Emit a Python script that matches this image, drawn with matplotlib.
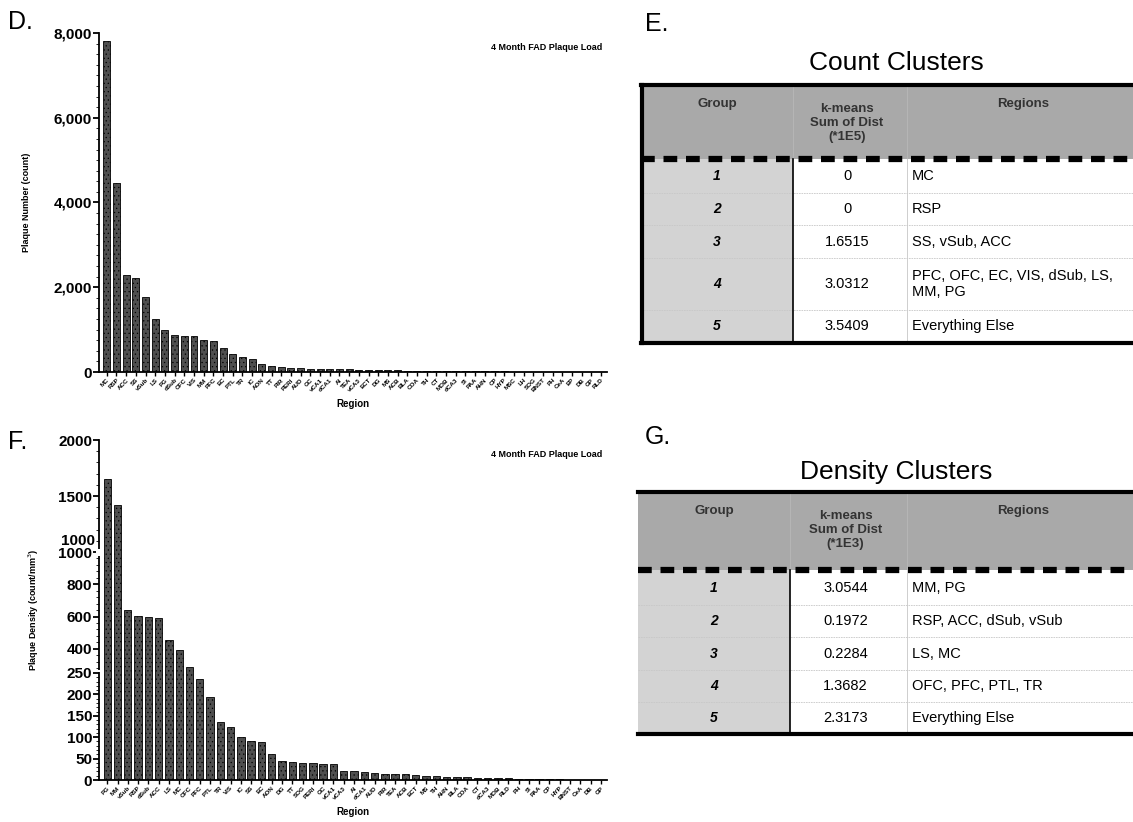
import numpy as np
import matplotlib
matplotlib.use("Agg")
import matplotlib.pyplot as plt
from matplotlib.ticker import FuncFormatter, MultipleLocator, FixedLocator
from matplotlib.patches import Rectangle

plt.rcParams['font.family'] = ['Liberation Sans', 'DejaVu Sans']

# ---- panel D: plaque count per region ----
count_regions = ['MC', 'RSP', 'ACC', 'SS', 'vSub', 'LS', 'PG', 'dSub', 'OFC', 'VIS',
                 'MM', 'PFC', 'EC', 'PTL', 'TR', 'IC', 'AON', 'TT', 'PIR', 'PERI',
                 'AUD', 'GC', 'vCA1', 'dCA1', 'AI', 'TEA', 'vCA3', 'ECT', 'DG', 'MS',
                 'ACB', 'BLA', 'COA', 'TH', 'CT', 'MOB', 'dCA3', 'SI', 'PAA', 'AHN',
                 'CP', 'HYP', 'MSC', 'LH', 'SOG', 'BNST', 'PH', 'CeA', 'EP', 'DB',
                 'GP', 'RLD']
count_values = [7800, 4450, 2280, 2230, 1780, 1250, 1000, 880, 860, 860,
                760, 720, 560, 420, 350, 310, 190, 150, 120, 100,
                90, 80, 75, 70, 65, 60, 55, 50, 45, 40,
                38, 35, 32, 30, 28, 25, 22, 20, 18, 16,
                14, 12, 11, 10, 9, 8, 7, 6, 5, 4,
                3, 2]

# ---- panel F: plaque density per region ----
dens_regions = ['PG', 'MM', 'vSub', 'RSP', 'dSub', 'ACC', 'LS', 'MC', 'OFC', 'PFC',
                'PTL', 'TR', 'VIS', 'IC', 'SS', 'EC', 'AON', 'DG', 'TT', 'SOG',
                'PERI', 'GC', 'vCA1', 'vCA3', 'AI', 'dCA1', 'AUD', 'PIR', 'TEA', 'ACB',
                'ECT', 'MS', 'TH', 'AHN', 'BLA', 'COA', 'CT', 'dCA3', 'MOB', 'RLD',
                'PH', 'SI', 'PAA', 'CP', 'HYP', 'BNST', 'CeA', 'DB', 'GP']
dens_values = [1650, 1420, 640, 605, 595, 588, 455, 395, 290, 235,
               195, 135, 125, 100, 90, 88, 60, 45, 42, 40,
               40, 38, 37, 22, 20, 18, 16, 15, 14, 13,
               11, 10, 9, 8, 7, 6, 5, 5, 4, 4,
               3, 3, 2, 2, 1.5, 1, 1, 0.8, 0.5]

# ---- tables E and G ----
table_groups = ['1', '2', '3', '4', '5']
count_sums = ['0', '0', '1.6515', '3.0312', '3.5409']
count_members = ['MC', 'RSP', 'SS, vSub, ACC',
                 'PFC, OFC, EC, VIS, dSub, LS,\nMM, PG', 'Everything Else']
dens_sums = ['3.0544', '0.1972', '0.2284', '1.3682', '2.3173']
dens_members = ['MM, PG', 'RSP, ACC, dSub, vSub', 'LS, MC',
                'OFC, PFC, PTL, TR', 'Everything Else']

W, H = 1133, 822
fig = plt.figure(figsize=(W / 100, H / 100), dpi=100)


def px_axes(left, top, right, bottom):
    return fig.add_axes([left / W, 1 - bottom / H, (right - left) / W, (bottom - top) / H])


def style_bar_axes(ax, labels):
    for s in ['top', 'right']:
        ax.spines[s].set_visible(False)
    for s in ['left', 'bottom']:
        ax.spines[s].set_linewidth(1.3)
    ax.set_xticks(range(len(labels)))
    ax.set_xticklabels(labels, rotation=45, ha='right', rotation_mode='anchor',
                       fontsize=4.5, fontweight='bold')
    ax.tick_params(axis='x', length=3, width=1, pad=1)
    ax.tick_params(axis='y', which='major', length=4, width=1.3, labelsize=11, pad=1)
    ax.tick_params(axis='y', which='minor', length=2, width=0.6)
    for t in ax.get_yticklabels():
        t.set_fontweight('bold')
    ax.set_xlim(-0.8, len(labels) - 0.4)
    ax.set_xlabel('Region', fontsize=7, fontweight='bold', labelpad=4)
    ax.text(0.99, 0.97, '4 Month FAD Plaque Load', transform=ax.transAxes,
            ha='right', va='top', fontsize=6.5, fontweight='bold')


plt.rcParams['hatch.color'] = '#9a9a9a'
plt.rcParams['hatch.linewidth'] = 0.4
bar_kw = dict(width=0.72, color='#4f4f4f', edgecolor='black', linewidth=0.6,
              hatch='....')

# D
axD = px_axes(99, 33, 607, 372)
axD.bar(range(len(count_regions)), count_values, **bar_kw)
axD.set_ylim(0, 8000)
axD.yaxis.set_major_locator(MultipleLocator(2000))
axD.yaxis.set_minor_locator(MultipleLocator(250))
axD.yaxis.set_major_formatter(FuncFormatter(lambda v, p: f'{int(v):,}'))
style_bar_axes(axD, count_regions)
axD.set_ylabel('Plaque Number (count)', fontsize=6.5, fontweight='bold', labelpad=16)

# F with a segmented (broken) y axis
seg_v = [0, 250, 1000, 2000]
seg_p = [0, 107, 228, 340]
fwd = lambda v: np.interp(v, seg_v, seg_p)
inv = lambda p: np.interp(p, seg_p, seg_v)
axF = px_axes(99, 440, 607, 780)
axF.set_yscale('function', functions=(fwd, inv))
axF.bar(range(len(dens_regions)), dens_values, **bar_kw)
axF.set_ylim(0, 2000)
axF.yaxis.set_major_locator(FixedLocator([0, 50, 100, 150, 200, 250, 400, 600, 800,
                                          1000, 1500, 2000]))
axF.yaxis.set_minor_locator(FixedLocator(np.r_[np.arange(0, 250, 10),
                                               np.arange(280, 1000, 40),
                                               np.arange(1000, 2000, 100)]))
axF.yaxis.set_major_formatter(FuncFormatter(lambda v, p: f'{int(v)}'))
style_bar_axes(axF, dens_regions)
axF.set_ylabel('Plaque Density (count/mm$^3$)', fontsize=6.5, fontweight='bold',
               labelpad=12)
# stacked "1000" label of the axis break, and white breaks on the spine
axF.annotate('1000', xy=(0, 1000), xycoords=('axes fraction', 'data'),
             xytext=(-3, 8), textcoords='offset points', ha='right', va='center',
             fontsize=11, fontweight='bold')
for yb, h in [(262, 16), (1000, 45)]:
    axF.add_patch(Rectangle((-0.006, yb - h / 2), 0.012, h,
                            transform=axF.get_yaxis_transform(),
                            facecolor='white', edgecolor='none', clip_on=False, zorder=5))

# overlay in pixel coordinates for letters and tables
ov = fig.add_axes([0, 0, 1, 1], zorder=-1)
ov.set_xlim(0, W)
ov.set_ylim(H, 0)
ov.axis('off')

for letter, x, y in [('D.', 8, 22), ('E.', 645, 24), ('F.', 8, 442), ('G.', 645, 437)]:
    ov.text(x, y, letter, fontsize=18, ha='left', va='center')


def draw_table(title, title_y, top, hdr_bot, rows, cols, unit, sums, members, left_border):
    ov.text(896, title_y, title, fontsize=19, ha='center', va='center')
    right = W + 10
    bottom = rows[-1]
    ov.add_patch(Rectangle((cols[0], top), right - cols[0], hdr_bot - top,
                           facecolor='#a9a9a9', edgecolor='none'))
    ov.add_patch(Rectangle((cols[0], hdr_bot), cols[1] - cols[0], bottom - hdr_bot,
                           facecolor='#d3d3d3', edgecolor='none'))
    # header texts
    hy = top + 19
    hdr = dict(fontsize=9.5, fontweight='bold', color='#333333', va='center')
    ov.text((cols[0] + cols[1]) / 2, hy, 'Group', ha='center', **hdr)
    ov.text((cols[1] + cols[2]) / 2 - 3, hy + 19, f'k-means\nSum of Dist\n({unit})',
            ha='center', linespacing=1.25, **hdr)
    ov.text(1023, hy, 'Regions', ha='center', **hdr)
    ov.plot([cols[1], cols[1]], [top, hdr_bot], color='#bbbbbb', lw=0.5)
    ov.plot([cols[2], cols[2]], [top, bottom], color='#bbbbbb', lw=0.5)
    # rows
    for i in range(len(rows) - 1):
        yc = (rows[i] + rows[i + 1]) / 2
        ov.text((cols[0] + cols[1]) / 2, yc, table_groups[i], fontsize=10,
                fontweight='bold', style='italic', ha='center', va='center')
        ov.text((cols[1] + cols[2]) / 2 - 3, yc, sums[i], fontsize=10.5,
                ha='center', va='center')
        ov.text(cols[2] + 5, yc, members[i], fontsize=10.5, ha='left', va='center',
                linespacing=1.15)
        if i < len(rows) - 2:
            ov.plot([cols[0], right], [rows[i + 1], rows[i + 1]], color='#c8c8c8',
                    lw=0.6, ls=(0, (2, 1)))
    ov.plot([cols[1], cols[1]], [hdr_bot, bottom], color='black', lw=1.2)
    ov.plot([cols[0], right], [top, top], color='black', lw=3)
    ov.plot([cols[0], right], [bottom + 1, bottom + 1], color='black', lw=3)
    ov.plot([cols[0], right], [hdr_bot, hdr_bot], color='black', lw=4.5,
            ls=(0, (2.2, 1.4)))
    if left_border:
        ov.plot([cols[0] + 1, cols[0] + 1], [top, bottom + 1], color='black', lw=3)


draw_table('Count Clusters', 63, 85, 159, [159, 193, 225, 258, 310, 342],
           [641, 793, 907], '*1E5', count_sums, count_members, True)
draw_table('Density Clusters', 472, 492, 570, [570, 605, 637, 670, 702, 733],
           [638, 790, 907], '*1E3', dens_sums, dens_members, False)

fig.savefig('out.png', dpi=100)
